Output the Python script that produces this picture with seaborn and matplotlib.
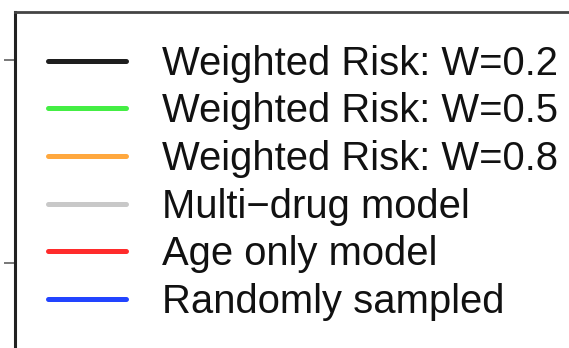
import matplotlib
matplotlib.use("Agg")
import matplotlib.pyplot as plt
import pandas as pd
import seaborn as sns

# legend entries and their colours
models = ["Weighted Risk: W=0.2", "Weighted Risk: W=0.5", "Weighted Risk: W=0.8",
          "Multi\u2212drug model", "Age only model", "Randomly sampled"]
colors = ["#1e1e1e", "#44ee44", "#ffa83e", "#c8c8c8", "#ff2b2b", "#2244ff"]

# curves lie below the cropped view, only the legend corner is visible
fraction = [0.1, 0.5, 0.9]
values = {
    models[0]: [0.62, 0.66, 0.70],
    models[1]: [0.61, 0.65, 0.69],
    models[2]: [0.60, 0.64, 0.68],
    models[3]: [0.58, 0.62, 0.66],
    models[4]: [0.55, 0.58, 0.61],
    models[5]: [0.50, 0.50, 0.50],
}
yticks = [0.2, 0.4, 0.6, 0.8, 1.0]

rows = []
for m in models:
    for x, v in zip(fraction, values[m]):
        rows.append({"fraction": x, "value": v, "model": m})
df = pd.DataFrame(rows)

sns.set_style("white")
plt.rcParams["font.family"] = ["Liberation Sans", "DejaVu Sans"]

W, H = 569, 348
fig = plt.figure(figsize=(W / 100, H / 100), dpi=100)
# axes larger than the figure: we only see its top-left corner
ax = fig.add_axes([15 / W, 1 - 612 / H, 1000 / W, 600 / H])

sns.lineplot(data=df, x="fraction", y="value", hue="model", hue_order=models,
             palette=dict(zip(models, colors)), linewidth=3.6, ax=ax)

ax.set_yticks(yticks)
ax.set_yticklabels([])
ax.set_xticks([])
ax.set_xlim(0, 1)
ax.set_ylim(0.4562, 1.0473)
ax.set_xlabel("")
ax.set_ylabel("")
ax.tick_params(axis="y", direction="out", length=8, width=1.4, color="#777777",
               left=True, right=False)
for side in ["right", "bottom"]:
    ax.spines[side].set_visible(False)
ax.spines["left"].set_color("#222222")
ax.spines["left"].set_linewidth(2.2)
ax.spines["top"].set_color("#444444")
ax.spines["top"].set_linewidth(2.0)
ax.spines["top"].set_bounds(0, 0.57)
# spines above the legend so they act as its box edges
ax.spines["left"].set_zorder(10)
ax.spines["top"].set_zorder(10)

handles, labels = ax.get_legend_handles_labels()
ax.get_legend().remove()
leg = ax.legend(handles, labels, loc="upper left", bbox_to_anchor=(0, 1),
                borderaxespad=0, fontsize=28.8, handlelength=1.95, handletextpad=0.9,
                borderpad=0.82, labelspacing=0.24, frameon=True, fancybox=False)
leg.get_frame().set_linewidth(0)
leg.get_frame().set_facecolor("white")
for h in leg.get_lines():
    h.set_linewidth(3.6)
for t in leg.get_texts():
    t.set_color("#111111")

fig.savefig("out.png", dpi=100, facecolor="white")
